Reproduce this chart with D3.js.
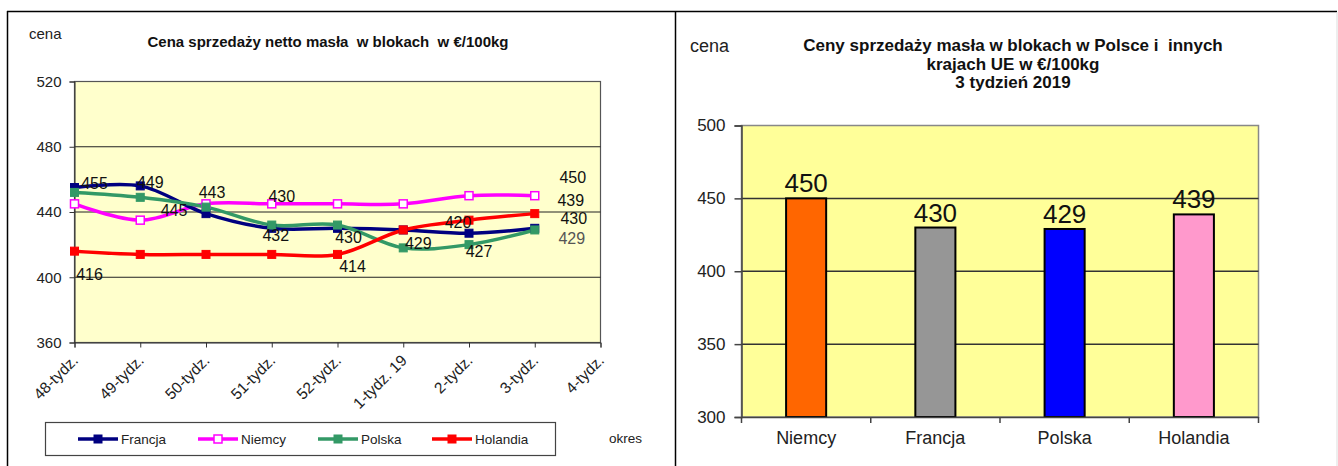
<!DOCTYPE html>
<html><head><meta charset="utf-8">
<script src="https://cdn.jsdelivr.net/npm/d3@7/dist/d3.min.js"></script>
<style>
html,body{margin:0;padding:0;background:#fff;}
svg{display:block;}
</style></head>
<body>
<svg id="c" width="1338" height="466"></svg>
<script>
// ---------- DATA ----------
const weeks = ["48-tydz.","49-tydz.","50-tydz.","51-tydz.","52-tydz.","1-tydz. 19","2-tydz.","3-tydz.","4-tydz."];
const francja  = [455,456,439,430,430,429,427,430];
const niemcy   = [445,435,445,445,445,445,450,450];
const polska   = [452,449,443,432,432,418,420,429];
const holandia = [416,414,414,414,414,429,435,439];
const leftTicks = [360,400,440,480,520];

const countries = ["Niemcy","Francja","Polska","Holandia"];
const week3Prices = [450,430,429,439];
const rightTicks = [300,350,400,450,500];

// ---------- STYLE ----------
const REG = "'Liberation Sans', Arial, sans-serif";

const svg = d3.select("#c");

// frame lines
svg.append("line").attr("x1",7).attr("x2",1337).attr("y1",11.5).attr("y2",11.5).attr("stroke","#000").attr("stroke-width",1.5);
svg.append("line").attr("x1",7.5).attr("x2",7.5).attr("y1",11).attr("y2",466).attr("stroke","#000").attr("stroke-width",1.5);
svg.append("line").attr("x1",675.5).attr("x2",675.5).attr("y1",11).attr("y2",466).attr("stroke","#000").attr("stroke-width",1.5);
svg.append("line").attr("x1",1337).attr("x2",1337).attr("y1",12).attr("y2",466).attr("stroke","#ddd").attr("stroke-width",1);

// ================= LEFT CHART =================
const L = {left:74.5, right:600.5, top:81.5, bottom:342.5};
const xL = d3.scalePoint().domain(weeks).range([L.left, L.right]);
const yL = d3.scaleLinear().domain([360,520]).range([L.bottom, L.top]);
const gL = svg.append("g");

gL.append("rect").attr("x",L.left).attr("y",L.top).attr("width",L.right-L.left).attr("height",L.bottom-L.top)
  .attr("fill","#FFFFCC").attr("stroke","#555").attr("stroke-width",1.2);

gL.append("g").selectAll("line").data(leftTicks.slice(1,-1)).join("line")
  .attr("x1",L.left).attr("x2",L.right).attr("y1",d=>yL(d)).attr("y2",d=>yL(d))
  .attr("stroke","#222").attr("stroke-width",1);

const yAxL = gL.append("g").attr("transform",`translate(${L.left},0)`)
  .call(d3.axisLeft(yL).tickValues(leftTicks).tickSize(5).tickPadding(8));
yAxL.select(".domain").attr("stroke","#333");
yAxL.selectAll(".tick line").attr("stroke","#333");
yAxL.selectAll("text").attr("font-family",REG).attr("font-size",15).attr("fill","#222");

const xAxL = gL.append("g").attr("transform",`translate(0,${L.bottom})`)
  .call(d3.axisBottom(xL).tickSize(5).tickPadding(0));
xAxL.select(".domain").attr("stroke","#333");
xAxL.selectAll(".tick line").attr("stroke","#333");
xAxL.selectAll("text").attr("font-family",REG).attr("font-size",15.5).attr("fill","#222")
  .attr("text-anchor","end").attr("dy",0).attr("y",0)
  .attr("transform","translate(4,19) rotate(-45)");

const series = [
  {name:"Francja", values:francja, color:"#000080", hollow:false},
  {name:"Niemcy", values:niemcy, color:"#FF00FF", hollow:true},
  {name:"Polska", values:polska, color:"#339966", hollow:false},
  {name:"Holandia", values:holandia, color:"#FF0000", hollow:false}
];
const line = d3.line().x((d,i)=>xL(weeks[i])).y(d=>yL(d)).curve(d3.curveCatmullRom.alpha(0.5));
const drawOrder = [1,0,2,3];
drawOrder.forEach(k=>{
  const s = series[k];
  gL.append("path").attr("d",line(s.values)).attr("fill","none").attr("stroke",s.color).attr("stroke-width",3.5);
});
drawOrder.forEach(k=>{
  const s = series[k];
  gL.append("g").selectAll("rect").data(s.values).join("rect")
    .attr("x",(d,i)=>xL(weeks[i])-4).attr("y",d=>yL(d)-4).attr("width",8).attr("height",8)
    .attr("fill",s.hollow?"#fff":s.color).attr("stroke",s.color).attr("stroke-width",s.hollow?1.5:1);
});

// data labels (Excel placement offsets relative to the point)
const labelPlacement = [
  ["Francja",0,20,1],["Polska",1,10,-9],["Niemcy",2,-32,12],["Polska",2,6,-9],
  ["Francja",3,10,-26],["Polska",3,4,16],["Francja",4,11,15],["Holandia",4,15,18],
  ["Francja",5,15,19],["Polska",6,-11,-17],["Francja",6,10,24],["Holandia",0,15,29],
  ["Niemcy",7,38,-13],["Holandia",7,36,-8],["Francja",7,39,-4],["Polska",7,37,14,"#555"]
];
gL.append("g").selectAll("text").data(labelPlacement).join("text")
  .attr("x",d=>xL(weeks[d[1]])+d[2])
  .attr("y",d=>yL(series.find(s=>s.name===d[0]).values[d[1]])+d[3])
  .attr("text-anchor","middle").attr("font-family",REG).attr("font-size",16)
  .attr("fill",d=>d[4]||"#111")
  .text(d=>series.find(s=>s.name===d[0]).values[d[1]]);

gL.append("text").attr("x",29).attr("y",39).attr("font-family",REG).attr("font-size",15).attr("fill","#222").text("cena");
gL.append("text").attr("x",328).attr("y",47).attr("text-anchor","middle").attr("font-family",REG)
  .attr("font-weight","bold").attr("font-size",15).attr("fill","#111")
  .attr("xml:space","preserve").text("Cena sprzedaży netto masła  w blokach  w €/100kg");
gL.append("text").attr("x",609).attr("y",443).attr("font-family",REG).attr("font-size",13.5).attr("fill","#222").text("okres");

// legend
gL.append("rect").attr("x",45.5).attr("y",422.5).attr("width",510).attr("height",33)
  .attr("fill","#fff").attr("stroke","#444").attr("stroke-width",1.2);
const legX = [78,198,318,432];
series.forEach((s,i)=>{
  const lg = gL.append("g").attr("transform",`translate(${legX[i]},439)`);
  lg.append("line").attr("x1",0).attr("x2",40).attr("y1",0).attr("y2",0).attr("stroke",s.color).attr("stroke-width",3.5);
  lg.append("rect").attr("x",16).attr("y",-4).attr("width",8).attr("height",8)
    .attr("fill",s.hollow?"#fff":s.color).attr("stroke",s.color).attr("stroke-width",s.hollow?1.5:1);
  lg.append("text").attr("x",43).attr("y",5).attr("font-family",REG).attr("font-size",13.5).attr("fill","#222").text(s.name);
});

// ================= RIGHT CHART =================
const R = {left:741.5, right:1258.5, top:125.5, bottom:417};
const xR = d3.scaleBand().domain(countries).range([R.left, R.right]).paddingInner(0.69).paddingOuter(0.345);
const xRt = d3.scaleBand().domain(countries).range([R.left, R.right]);
const yR = d3.scaleLinear().domain([300,500]).range([R.bottom, R.top]);
const barColors = ["#FF6600","#969696","#0000FF","#FF99CC"];
const gR = svg.append("g");

gR.append("rect").attr("x",R.left).attr("y",R.top).attr("width",R.right-R.left).attr("height",R.bottom-R.top)
  .attr("fill","#FFFF99").attr("stroke","#888").attr("stroke-width",1.5);
gR.append("g").selectAll("line").data(rightTicks.slice(1,-1)).join("line")
  .attr("x1",R.left).attr("x2",R.right).attr("y1",d=>yR(d)).attr("y2",d=>yR(d))
  .attr("stroke","#333").attr("stroke-width",1.5);

gR.append("g").selectAll("rect").data(week3Prices).join("rect")
  .attr("x",(d,i)=>xR(countries[i])).attr("width",xR.bandwidth())
  .attr("y",d=>yR(d)).attr("height",d=>yR(300)-yR(d))
  .attr("fill",(d,i)=>barColors[i]).attr("stroke","#000").attr("stroke-width",2);

gR.append("g").selectAll("text").data(week3Prices).join("text")
  .attr("x",(d,i)=>xR(countries[i])+xR.bandwidth()/2).attr("y",d=>yR(d)-6)
  .attr("text-anchor","middle").attr("font-family",REG).attr("font-size",26).attr("fill","#111").text(d=>d);

const yAxR = gR.append("g").attr("transform",`translate(${R.left},0)`)
  .call(d3.axisLeft(yR).tickValues(rightTicks).tickSize(7).tickPadding(9));
yAxR.select(".domain").attr("stroke","#444").attr("stroke-width",1.5);
yAxR.selectAll(".tick line").attr("stroke","#444").attr("stroke-width",1.5);
yAxR.selectAll("text").attr("font-family",REG).attr("font-size",17).attr("fill","#222");

const xAxR = gR.append("g").attr("transform",`translate(0,${R.bottom})`)
  .call(d3.axisBottom(xRt).tickSize(0).tickPadding(14));
xAxR.select(".domain").attr("stroke","#444").attr("stroke-width",1.5);
xAxR.selectAll("text").attr("font-family",REG).attr("font-size",18).attr("fill","#222");
gR.append("g").selectAll("line").data(d3.range(countries.length+1)).join("line")
  .attr("x1",i=>R.left+i*xRt.step()).attr("x2",i=>R.left+i*xRt.step())
  .attr("y1",R.bottom).attr("y2",R.bottom+6).attr("stroke","#444").attr("stroke-width",1.5);

gR.append("text").attr("x",690).attr("y",52).attr("font-family",REG).attr("font-size",18).attr("fill","#222").text("cena");
const titleR = ["Ceny sprzedaży masła w blokach w Polsce i  innych","krajach UE w €/100kg","3 tydzień 2019"];
gR.append("g").selectAll("text").data(titleR).join("text")
  .attr("x",1013).attr("y",(d,i)=>51+i*18.5).attr("text-anchor","middle")
  .attr("font-family",REG).attr("font-weight","bold").attr("font-size",17).attr("fill","#111")
  .attr("xml:space","preserve").text(d=>d);
</script>
</body></html>
